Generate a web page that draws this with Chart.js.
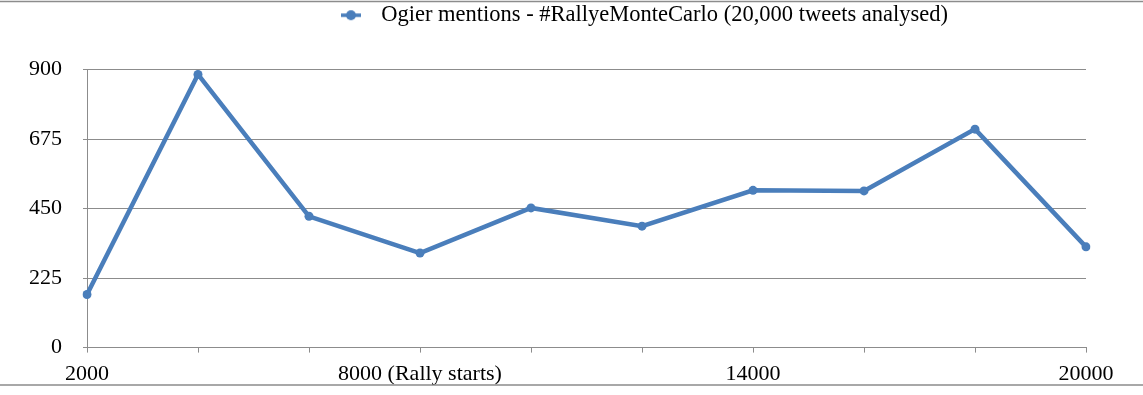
<!DOCTYPE html>
<html>
<head>
<meta charset="utf-8">
<script src="https://cdn.jsdelivr.net/npm/chart.js@4/dist/chart.umd.min.js"></script>
<style>
  html, body { margin: 0; padding: 0; background: #fff; }
  #wrap { width: 1143px; height: 395px; position: relative; }
</style>
</head>
<body>
<div id="wrap"><canvas id="ogierChart"></canvas></div>
<script>
// tweets analysed (category axis)
const tweetCounts = ['2000', '4000', '6000', '8000', '10000', '12000', '14000', '16000', '18000', '20000'];
const xTickLabels = ['2000', '', '', '8000 (Rally starts)', '', '', '14000', '', '', '20000'];
const ogierMentions = [172, 884, 425, 306, 452, 393, 509, 507, 707, 326];
const yTicks = [0, 225, 450, 675, 900];

const lineBlue = '#4a7ebb';
const gridGrey = '#8c8c8c';

Chart.defaults.font.family = "'Liberation Serif', 'Times New Roman', serif";
Chart.defaults.font.size = 22;
Chart.defaults.color = '#000';

// little line-with-dot marker for the legend, like the spreadsheet one
const legendMarker = document.createElement('canvas');
legendMarker.width = 22;
legendMarker.height = 12;
(function () {
    const c = legendMarker.getContext('2d');
    c.strokeStyle = lineBlue;
    c.lineWidth = 3.5;
    c.beginPath();
    c.moveTo(1, 6);
    c.lineTo(21, 6);
    c.stroke();
    c.fillStyle = lineBlue;
    c.beginPath();
    c.arc(11, 6, 5, 0, Math.PI * 2);
    c.fill();
})();

// push the legend down / across to where it sits in the original
const legendPlacement = {
    id: 'legendPlacement',
    beforeInit(chart) {
        const origFit = chart.legend.fit;
        chart.legend.fit = function fit() {
            origFit.bind(chart.legend)();
            this.height += 35;
        };
    },
    afterLayout(chart) {
        chart.legend.left += 330;
        chart.legend.right += 330;
        chart.legend.top += 2;
        chart.legend.bottom += 2;
    }
};

// thin grey rules across the top and bottom of the picture
const frameLines = {
    id: 'frameLines',
    afterDraw(chart) {
        const { ctx, width } = chart;
        ctx.save();
        ctx.strokeStyle = gridGrey;
        ctx.lineWidth = 1.5;
        ctx.beginPath();
        ctx.moveTo(0, 1.5);
        ctx.lineTo(width, 1.5);
        ctx.moveTo(0, 385);
        ctx.lineTo(width, 385);
        ctx.stroke();
        ctx.restore();
    }
};

const ctx = document.getElementById('ogierChart').getContext('2d');

let ogierChart = new Chart(ctx, {
    type: 'line',
    data: {
        labels: tweetCounts,
        datasets: [{
            label: 'Ogier mentions - #RallyeMonteCarlo (20,000 tweets analysed)',
            data: ogierMentions,
            borderColor: lineBlue,
            backgroundColor: lineBlue,
            borderWidth: 4.5,
            pointRadius: 4.5,
            pointBorderWidth: 0,
            pointBackgroundColor: lineBlue,
            pointStyle: 'circle',
            tension: 0,
            fill: false
        }]
    },
    options: {
        responsive: true,
        maintainAspectRatio: false,
        animation: false,
        layout: { padding: { left: 0, right: 57, top: 0, bottom: 0 } },
        plugins: {
            legend: {
                display: true,
                position: 'top',
                align: 'start',
                labels: {
                    usePointStyle: true,
                    pointStyleWidth: 38,
                    padding: 2,
                    color: '#000',
                    font: { size: 22.5 },
                    generateLabels(chart) {
                        const items = Chart.defaults.plugins.legend.labels.generateLabels(chart);
                        items.forEach(it => { it.pointStyle = legendMarker; });
                        return items;
                    }
                }
            },
            tooltip: { enabled: false }
        },
        scales: {
            x: {
                offset: false,
                border: { display: true, color: gridGrey, width: 1 },
                grid: {
                    drawOnChartArea: false,
                    drawTicks: true,
                    tickLength: 5,
                    color: gridGrey
                },
                ticks: {
                    autoSkip: false,
                    maxRotation: 0,
                    padding: 8,
                    callback: (v, i) => xTickLabels[i]
                }
            },
            y: {
                min: 0,
                max: 900,
                afterFit(scale) { scale.width = 87; },
                afterBuildTicks(scale) { scale.ticks = yTicks.map(v => ({ value: v })); },
                border: { display: true, color: gridGrey, width: 1 },
                grid: {
                    color: gridGrey,
                    lineWidth: 1,
                    drawTicks: true,
                    tickLength: 4
                },
                ticks: {
                    padding: 21
                }
            }
        }
    },
    plugins: [legendPlacement, frameLines]
});
</script>
</body>
</html>
